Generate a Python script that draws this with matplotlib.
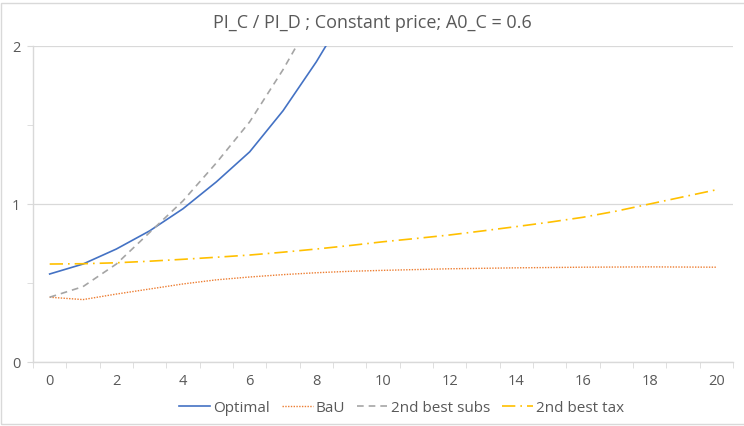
import numpy as np
import matplotlib.pyplot as plt
from matplotlib.patches import Rectangle

years = list(range(21))
optimal = [0.557, 0.62, 0.715, 0.83, 0.97, 1.14, 1.33, 1.59, 1.90, 2.25, 2.7,
           3.3, 4.0, 4.8, 5.8, 7.0, 8.4, 10.1, 12.2, 14.7, 17.7]
bau = [0.41, 0.395, 0.43, 0.462, 0.494, 0.52, 0.538, 0.553, 0.565, 0.574, 0.58,
       0.585, 0.59, 0.593, 0.596, 0.598, 0.600, 0.601, 0.602, 0.601, 0.600]
subs = [0.41, 0.477, 0.62, 0.82, 1.02, 1.26, 1.52, 1.85, 2.22, 2.7, 3.3,
        4.0, 4.9, 5.9, 7.2, 8.7, 10.5, 12.7, 15.3, 18.4, 22.2]
tax = [0.62, 0.622, 0.628, 0.638, 0.65, 0.663, 0.677, 0.695, 0.715, 0.737, 0.761,
       0.782, 0.804, 0.83, 0.857, 0.885, 0.916, 0.955, 1.0, 1.045, 1.09]

plt.rcParams['font.family'] = ['Open Sans', 'DejaVu Sans']
txt = '#595959'

fig = plt.figure(figsize=(7.44, 4.27), dpi=100)
ax = fig.add_axes([33/744, 1 - 363/427, 700/744, 316/427])

ax.plot(years, optimal, color='#4472C4', lw=1.2, label='Optimal')
ax.plot(years, bau, color='#ED7D31', lw=1.0, ls=(0, (1, 1)), label='BaU')
ax.plot(years, subs, color='#A5A5A5', lw=1.2, ls=(0, (4, 3)), label='2nd best subs')
ax.plot(years, tax, color='#FFC000', lw=1.2, ls=(0, (8, 3, 1, 3)), label='2nd best tax')

ax.set_xlim(-0.5, 20.5)
ax.set_ylim(0, 2)
ax.set_xticks(range(0, 21, 2))
ax.set_xticks(np.arange(-0.5, 21, 1), minor=True)
ax.set_yticks([0, 1, 2])
ax.set_yticks([0.5, 1.5], minor=True)
ax.tick_params(axis='x', which='major', length=0, pad=8, labelsize=10.5, labelcolor=txt)
ax.tick_params(axis='x', which='minor', length=4, color='#D9D9D9', direction='out')
ax.tick_params(axis='y', which='both', length=4, color='#D9D9D9', labelsize=10.5,
               labelcolor=txt, pad=5)
ax.grid(axis='y', which='major', color='#D9D9D9', lw=0.9)
ax.set_axisbelow(True)
for s in ['top', 'right']:
    ax.spines[s].set_visible(False)
for s in ['left', 'bottom']:
    ax.spines[s].set_color('#D9D9D9')
    ax.spines[s].set_linewidth(1.0)

fig.text(0.5, 1 - 23/427, 'PI_C / PI_D ; Constant price; A0_C = 0.6', ha='center',
         va='center', fontsize=13, color=txt)

fig.legend(loc='center', bbox_to_anchor=(0.54, 1 - 409/427), ncol=4, frameon=False,
           fontsize=11, labelcolor=txt, handlelength=2.0, handletextpad=0.2,
           columnspacing=0.8)

fig.patches.append(Rectangle((1/744, 1 - 425/427), 760/744, 421/427, transform=fig.transFigure,
                             fill=False, edgecolor='#D9D9D9', lw=1.0))

fig.savefig('out.png', dpi=100)
